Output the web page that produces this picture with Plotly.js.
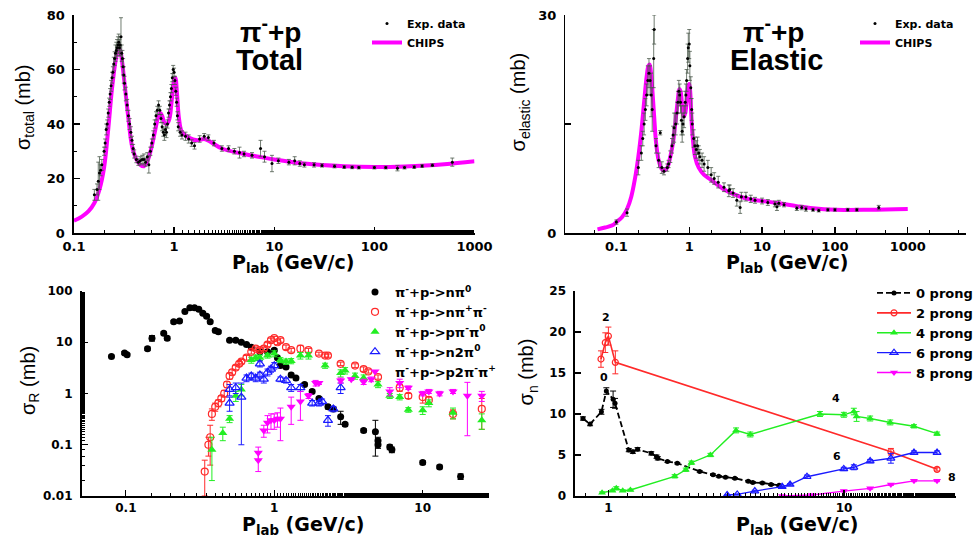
<!DOCTYPE html>
<html><head><meta charset="utf-8">
<script src="https://cdn.plot.ly/plotly-3.0.1.min.js"></script>
<style>html,body{margin:0;padding:0;background:#fff;}#chart{width:978px;height:537px;}</style>
</head><body><div id="chart"></div>
<script>
// ---------- Panel 1: pi- p total cross section ----------
var totCurveP = [0.1,0.12,0.14,0.16,0.18,0.2,0.22,0.24,0.26,0.27,0.28,0.29,0.3,0.32,0.35,0.38,0.42,0.46,0.5,0.55,0.6,0.65,0.7,0.73,0.76,0.8,0.85,0.9,0.95,1.0,1.03,1.07,1.12,1.2,1.4,1.7,2.0,2.3,3,5,7,10,20,50,100,200,500,1000];
var totCurveS = [4.5,6,8,11,16,24,38,53,63,66,67.5,67,64,55,42,32,27,25,24.5,27,32,38,43,44,43,40.5,40,42,49,56,57,51,42,37,35,34,34.5,33.5,31,29,28,27,25.5,24.5,24.2,24.4,25.2,26.3];
var totP = [0.16,0.17,0.175,0.18,0.185,0.19,0.2,0.205,0.21,0.215,0.22,0.225,0.23,0.235,0.24,0.245,0.25,0.255,0.26,0.265,0.27,0.275,0.28,0.285,0.29,0.295,0.3,0.305,0.31,0.315,0.32,0.33,0.34,0.35,0.36,0.37,0.38,0.39,0.4,0.42,0.44,0.46,0.48,0.5,0.52,0.54,0.56,0.58,0.6,0.62,0.64,0.66,0.68,0.7,0.72,0.74,0.76,0.78,0.8,0.82,0.84,0.86,0.88,0.9,0.92,0.94,0.96,0.98,1.0,1.02,1.04,1.06,1.08,1.1,1.15,1.2,1.3,1.4,1.5,1.6,1.8,2.0,2.2,2.5,3,3.5,4,4.5,5,6,7.3,8,9.5,11,14,16,18,20,25,30,40,50,60,70,100,130,170,200,250,300,380,600];
var totS = [14,16,19,22,23,25,30,33,38,40,44,48,51,54,57,59,62,64,66,67,68,69,70,68,69,72,66,64,61,58,55,51,47,43,40,37,34,31,29,27,26,26.5,27,27,26,28,25,30,33,36,40,43,45,47,45,42,39,37,36,38,37,40,44,47,50,53,57,60,59,56,52,48,43,39,37,36,35.5,34.5,33,32,34.5,35.5,35,33,31,31,30,29.5,29,28.5,31,28,25.5,26.5,26,26.5,25.5,25,25,24.8,24.5,24.2,24.1,24,24,24,23.8,24,24.2,24.6,24.9,26];
var totE = [2,2,7,6,2,2,1.5,1.5,2,1.5,1.5,1.5,2,2,2,2,2.5,2.5,3,3,3,3,3,3,3,7,3,3,3,3,2.5,2.5,2,2,2,2,1.5,1.5,1.5,1.2,1.2,1.5,1.5,2,1.5,1.5,3,1.5,1.5,1.5,1.5,1.5,1.5,1.5,1.5,1.5,1.5,1.5,2,2,2,1.5,1.5,1.5,1.5,1.5,1.5,1.5,1.5,1.5,1.5,1.5,1.5,1.5,1.5,1.5,1.5,1.5,1.2,1.2,1.2,1,1,1,1,1,1,2,1,1,3,2,3,1,1,1.5,1,0.8,0.8,0.6,0.6,0.5,0.5,0.5,0.5,0.5,1,0.5,0.5,0.5,0.5,1.5];

// ---------- Panel 2: pi- p elastic cross section ----------
var elCurveP = [0.055,0.07,0.09,0.1,0.12,0.14,0.16,0.18,0.2,0.22,0.24,0.26,0.275,0.285,0.295,0.31,0.33,0.35,0.38,0.42,0.46,0.5,0.55,0.6,0.65,0.7,0.73,0.76,0.8,0.84,0.88,0.92,0.96,1.0,1.03,1.07,1.12,1.2,1.35,1.6,2,3,5,7,10,17,30,50,100,300,1000];
var elCurveS = [0.5,0.75,1.1,1.5,2.2,3.3,5,7.5,10.5,14,18,21.5,23,23.2,22.5,20,16,12.5,10,8.8,8.6,9,10.5,12.5,15.5,18.5,19.8,19.5,17.5,16,16.5,18,20,20.5,19.5,16,13,10.5,9,8,7.3,6,5,4.6,4.4,4.1,3.7,3.4,3.2,3.2,3.3];
var elP = [0.1,0.14,0.2,0.22,0.23,0.24,0.25,0.26,0.27,0.28,0.29,0.3,0.31,0.325,0.33,0.35,0.38,0.4,0.42,0.45,0.5,0.52,0.55,0.58,0.6,0.62,0.65,0.68,0.7,0.72,0.74,0.76,0.78,0.8,0.82,0.85,0.88,0.9,0.92,0.95,0.97,1.0,1.02,1.05,1.08,1.1,1.15,1.2,1.25,1.3,1.35,1.4,1.5,1.6,1.8,2,2.2,2.5,3,3.5,3.6,4,4.5,5,5.2,6,7,8,10,12,15,16,17,20,30,35,40,50,60,80,100,150,200,400];
var elS = [1.5,2.8,9,11,13,15,17,19,21,22,21,19,17,24,28,12,10,13.8,9,8.5,9,9.5,10.5,12,13.5,14.5,15,16.5,18,19.5,19,18,15.5,14,15,16,18,19,21,24,25.5,26,23,20,17,15,13,12,11.5,12,11,10.5,10,9.5,9,8,7.5,7,6.3,5.8,6,5.5,4.5,3.5,5,5,4.7,4.5,4.4,4.2,4,3.6,4.1,3.9,3.4,3.5,3.3,3.2,3.1,3.2,3.2,3.2,3.2,3.5];
var elE = [0.3,0.5,1,1,1,1.5,1.5,1.5,2,2,2,3,3,4,2,1,1,0.3,0.8,0.5,0.5,0.5,0.8,1,1.2,2,1.5,1.5,1.5,1.5,1.5,1.5,2,1.5,1.5,1.5,1.5,1.5,1.5,2,2,2,2,1.5,1.5,1.5,1.2,1.2,1.2,1.2,1,1,1,1,1,1,0.8,0.8,0.6,0.8,0.6,0.6,0.8,0.8,0.6,0.6,0.5,0.4,0.4,0.4,0.4,0.5,0.4,0.3,0.3,0.3,0.3,0.2,0.2,0.2,0.2,0.2,0.2,0.3];

// ---------- Panel 3: channel cross sections ----------
var rNpi0P = [0.08,0.098,0.102,0.14,0.15,0.18,0.19,0.21,0.23,0.25,0.27,0.29,0.31,0.33,0.35,0.37,0.4,0.42,0.5,0.55,0.6,0.65,0.7,0.8,0.9,1.0,1.05,1.1,1.2,1.3,1.4,1.6,1.8,2.0,2.3,2.5,2.8,3.0,4.0,4.8,5.0,5.0,6.0,6.2,10,13,18];
var rNpi0S = [5.3,6.2,5.7,7.5,12,15,12,25,26,40,47,47,44,37,32,25,17,16,11,11,10,9,8,6.5,6.5,7,5,3.5,3.3,2.3,2.0,1.5,1.1,0.8,0.55,0.5,0.35,0.25,0.19,0.18,0.12,0.1,0.09,0.08,0.045,0.037,0.024];
var rNpi0E = [0.3,0.4,0.3,0.6,1.5,1,1,1.5,1.5,2,2,2,2,2,2,1.5,1,1,0.5,0.5,0.5,0.5,0.5,0.5,0.5,0.5,0.3,0.3,0.2,0.2,0.15,0.1,0.08,0.05,0.05,0.04,0.1,0.02,0.015,0.12,0.02,0.015,0.01,0.01,0.004,0.003,0.003];
var rNpipiP = [0.34,0.36,0.37,0.38,0.40,0.42,0.44,0.46,0.48,0.50,0.52,0.55,0.58,0.60,0.65,0.70,0.75,0.80,0.85,0.90,0.95,1.0,1.05,1.1,1.2,1.3,1.5,1.7,2.0,2.2,2.3,2.8,3.5,4.0,4.3,5.0,7.0,8.0,10,11,16,25];
var rNpipiS = [0.03,0.1,0.14,0.4,0.55,0.65,0.8,1.0,1.5,2.2,2.6,3.2,3.8,4.2,5,6.5,7.5,7,7.5,9,11,12,10,11,8,7,7.5,7,6,5.5,5.5,3.8,3.5,3,2.7,2.1,1.3,0.9,0.85,0.75,0.4,0.5];
var rNpipiE = [0.02,0.04,0.1,0.1,0.1,0.1,0.1,0.15,0.2,0.3,0.3,0.3,0.4,0.4,0.5,0.6,0.6,0.6,0.6,0.8,1,1,1,1,0.8,0.6,1.2,0.6,0.4,0.4,0.4,0.3,0.3,0.3,0.2,0.2,0.2,0.1,0.2,0.1,0.08,0.3];
var rPpipi0P = [0.38,0.45,0.5,0.55,0.6,0.7,0.75,0.8,0.9,1.0,1.1,1.2,1.3,1.5,1.7,2.2,2.8,3.0,3.5,4.0,5.0,6.0,7.0,8.0,10,11,16,25];
var rPpipi0S = [0.08,0.17,0.32,0.9,1.2,4.5,5,5,5.5,6,4.5,4.2,4.3,5.5,5.5,3.5,2.5,2.8,2.2,2.0,1.5,0.9,0.85,0.48,0.47,0.65,0.42,0.3];
var rPpipi0E = [0.06,0.05,0.05,0.2,0.3,0.6,0.6,0.6,0.6,0.8,0.5,0.5,0.5,0.8,0.8,0.4,0.4,0.4,0.3,0.3,0.2,0.1,0.1,0.05,0.08,0.1,0.1,0.1];
var rN2pi0P = [0.5,0.5,0.55,0.6,0.65,0.7,0.75,0.8,0.8,0.85,0.9,0.95,1.0,1.1,1.2,1.3,1.5,1.8,2.0,2.1,2.3,2.5,2.8];
var rN2pi0S = [0.65,1.2,1.3,0.85,2.0,2.2,2.0,2.3,3.8,1.9,2.6,3.0,3.5,1.9,1.8,1.3,1.3,0.65,0.65,0.7,0.3,0.5,1.3];
var rN2pi0E = [0.2,0.3,0.3,0.75,0.3,0.3,0.3,0.3,0.5,0.3,0.4,0.4,0.5,0.2,0.2,0.2,0.2,0.08,0.08,0.08,0.07,0.06,0.3];
var rP2piP = [0.78,0.78,0.85,0.9,0.95,1.0,1.05,1.1,1.3,1.5,1.7,1.9,2.0,2.8,3.3,4.0,4.5,6.0,7.0,8.0,10,11,13,16,20,25];
var rP2piS = [0.07,0.05,0.19,0.27,0.3,0.3,0.32,0.32,0.55,0.7,0.9,1.6,1.6,1.8,1.9,1.7,1.9,1.1,1.6,1.3,1.0,1.1,1.0,1.1,0.9,0.9];
var rP2piE = [0.02,0.02,0.05,0.1,0.1,0.1,0.1,0.2,0.3,0.4,0.1,0.2,0.1,0.2,0.1,0.2,0.2,0.2,0.3,0.1,0.1,0.1,0.1,0.1,0.75,0.2];

// ---------- Panel 4: prong cross sections ----------
var pr0P = [0.78,0.836,0.934,0.98,1.047,1.067,1.22,1.27,1.33,1.52,1.6,1.62,1.78,1.96,2.44,2.78,2.94,3.14,3.44,3.92,4.1,4.5,4.9,5.3];
var pr0S = [9.45,8.77,10.27,12.8,11.8,11.3,5.6,5.4,5.7,5.2,4.8,4.6,4.2,4.0,3.0,2.6,2.4,2.3,2.15,1.8,1.65,1.6,1.4,1.3];
var pr0E = [0.2,0.2,0.3,0.4,1.0,0.6,0.2,0.2,0.2,0.2,0.2,0.2,0.1,0.1,0.1,0.1,0.1,0.1,0.1,0.1,0.1,0.1,0.1,0.1];
var pr2P = [0.93,0.97,1.0,1.07,15.8,24.8];
var pr2S = [16.7,18.7,19.5,16.3,5.4,3.25];
var pr2E = [1.0,1.2,1.1,1.4,0.4,0.2];
var pr4P = [0.94,1.04,1.08,1.15,1.24,1.91,2.13,2.25,2.71,3.48,4.0,7.9,9.98,11.0,11.3,12.9,15.7,19.8,24.8];
var pr4S = [0.4,0.65,0.93,0.65,0.73,2.4,3.2,4.06,5.0,8.0,7.5,10.0,9.9,10.3,9.7,9.45,8.97,8.5,7.6];
var pr4E = [0.1,0.1,0.2,0.1,0.1,0.2,0.2,0.2,0.2,0.3,0.3,0.3,0.3,0.4,0.6,0.3,0.3,0.2,0.2];
var pr6P = [3.19,3.52,4.18,5.46,5.9,6.96,9.97,11.0,12.9,15.8,19.8,24.8];
var pr6S = [0.12,0.2,0.6,1.14,1.4,2.35,3.3,3.5,4.26,4.6,5.3,5.3];
var pr6E = [0.05,0.05,0.1,0.1,0.1,0.2,0.2,0.3,0.2,0.6,0.2,0.2];
var pr8P = [5.46,7.3,9.97,12.9,15.8,19.8,24.8];
var pr8S = [0.0,0.12,0.6,0.93,1.4,1.85,1.85];
var pr8E = [0.05,0.05,0.1,0.1,0.1,0.1,0.1];

var ticks1X = [0.1,1,10,100,1000];
var ticks1Xtxt = ['0.1','1','10','100','1000'];
var ticks1Y = [0,20,40,60,80];
var ticks2Y = [0,15,30];
var ticks2Ytxt = ['0','','30'];
var ticks3X = [0.1,1,10];
var ticks3Xtxt = ['0.1','1','10'];
var ticks3Y = [0.01,0.1,1,10,100];
var ticks3Ytxt = ['0.01','0.1','1','10','100'];
var ticks4X = [1,10];
var ticks4Xtxt = ['1','10'];
var ticks4Y = [0,5,10,15,20,25];

// ---------- styling ----------
var FONT = 'Arial, "Liberation Sans", sans-serif';
var WIDE = '"DejaVu Sans", Verdana, sans-serif';
var BLACK = '#000000', MAG = '#ff00ff', RED = '#ff2a2a', GREEN = '#22ee22', BLUE = '#1a1aff';
function tf(size){ return {family: WIDE, size: size, color: BLACK, weight: 'bold'}; }
function af(size){ return {family: FONT, size: size, color: BLACK, weight: 'bold'}; }
var yTitleFont = {family: FONT, size: 20, color: BLACK};

function errObj(arr, color, th, w){ return {type:'data', array: arr, visible:true, color: color, thickness: th, width: w}; }

var traces = [
  // panel 1
  {x: totCurveP, y: totCurveS, type:'scatter', mode:'lines', name:'CHIPS', line:{color:MAG, width:4, shape:'spline'}, xaxis:'x', yaxis:'y', legend:'legend', legendrank:2},
  {x: totP, y: totS, type:'scatter', mode:'markers', name:'Exp. data', marker:{color:BLACK, size:3}, error_y: errObj(totE, '#4d5a4d', 0.8, 2), xaxis:'x', yaxis:'y', legend:'legend', legendrank:1},
  // panel 2
  {x: elCurveP, y: elCurveS, type:'scatter', mode:'lines', name:'CHIPS', line:{color:MAG, width:4, shape:'spline'}, xaxis:'x2', yaxis:'y2', legend:'legend2', legendrank:2},
  {x: elP, y: elS, type:'scatter', mode:'markers', name:'Exp. data', marker:{color:BLACK, size:3}, error_y: errObj(elE, '#4d5a4d', 0.8, 2), xaxis:'x2', yaxis:'y2', legend:'legend2', legendrank:1},
  // panel 3
  {x: rNpi0P, y: rNpi0S, type:'scatter', mode:'markers', name:'π<sup>-</sup>+p->nπ<sup>0</sup>', marker:{color:BLACK, size:7, symbol:'circle'}, error_y: errObj(rNpi0E, BLACK, 1, 3), xaxis:'x3', yaxis:'y3', legend:'legend3'},
  {x: rNpipiP, y: rNpipiS, type:'scatter', mode:'markers', name:'π<sup>-</sup>+p->nπ<sup>+</sup>π<sup>-</sup>', marker:{color:RED, size:7, symbol:'circle-open', line:{width:1.2}}, error_y: errObj(rNpipiE, RED, 1, 3), xaxis:'x3', yaxis:'y3', legend:'legend3'},
  {x: rPpipi0P, y: rPpipi0S, type:'scatter', mode:'markers', name:'π<sup>-</sup>+p->pπ<sup>-</sup>π<sup>0</sup>', marker:{color:GREEN, size:8, symbol:'triangle-up'}, error_y: errObj(rPpipi0E, GREEN, 1, 3), xaxis:'x3', yaxis:'y3', legend:'legend3'},
  {x: rN2pi0P, y: rN2pi0S, type:'scatter', mode:'markers', name:'π<sup>-</sup>+p->n2π<sup>0</sup>', marker:{color:BLUE, size:8, symbol:'triangle-up-open', line:{width:1.2}}, error_y: errObj(rN2pi0E, BLUE, 1, 3), xaxis:'x3', yaxis:'y3', legend:'legend3'},
  {x: rP2piP, y: rP2piS, type:'scatter', mode:'markers', name:'π<sup>-</sup>+p->p2π<sup>-</sup>π<sup>+</sup>', marker:{color:MAG, size:8, symbol:'triangle-down'}, error_y: errObj(rP2piE, MAG, 1, 3), xaxis:'x3', yaxis:'y3', legend:'legend3'},
  // panel 4
  {x: pr0P, y: pr0S, type:'scatter', mode:'lines+markers', name:'0 prong', line:{color:BLACK, width:1.8, dash:'6px,3px'}, marker:{color:BLACK, size:5, symbol:'circle'}, error_y: errObj(pr0E, BLACK, 1, 3), xaxis:'x4', yaxis:'y4', legend:'legend4'},
  {x: pr2P, y: pr2S, type:'scatter', mode:'lines+markers', name:'2 prong', line:{color:RED, width:1.6}, marker:{color:RED, size:6, symbol:'circle-open', line:{width:1.2}}, error_y: errObj(pr2E, RED, 1, 3), xaxis:'x4', yaxis:'y4', legend:'legend4'},
  {x: pr4P, y: pr4S, type:'scatter', mode:'lines+markers', name:'4 prong', line:{color:GREEN, width:1.4}, marker:{color:GREEN, size:7, symbol:'triangle-up'}, error_y: errObj(pr4E, GREEN, 1, 3), xaxis:'x4', yaxis:'y4', legend:'legend4'},
  {x: pr6P, y: pr6S, type:'scatter', mode:'lines+markers', name:'6 prong', line:{color:BLUE, width:1.4}, marker:{color:BLUE, size:7, symbol:'triangle-up-open', line:{width:1.2}}, error_y: errObj(pr6E, BLUE, 1, 3), xaxis:'x4', yaxis:'y4', legend:'legend4'},
  {x: pr8P, y: pr8S, type:'scatter', mode:'lines+markers', name:'8 prong', line:{color:MAG, width:1.4}, marker:{color:MAG, size:7, symbol:'triangle-down'}, error_y: errObj(pr8E, MAG, 1, 3), xaxis:'x4', yaxis:'y4', legend:'legend4'}
];

function axBase(extra){
  var a = {showline:true, linecolor:BLACK, linewidth:1.6, mirror:false, showgrid:false, zeroline:false,
    ticks:'inside', ticklen:6, tickwidth:1.3, tickcolor:BLACK, tickfont: tf(13),
    fixedrange:true};
  for (var k in extra) a[k] = extra[k];
  return a;
}
var logMinor = {ticks:'inside', ticklen:3, tickwidth:1, tickcolor:BLACK, showgrid:false};

var W = 978, H = 537;
function dx(a,b){ return [a/W, b/W]; }
function dy(top,bot){ return [1-bot/H, 1-top/H]; }
function ann(px, py, text, font, extra){
  var a = {xref:'paper', yref:'paper', x:px/W, y:1-py/H, xanchor:'center', yanchor:'middle', text:text, showarrow:false, font:font};
  for (var k in extra) a[k] = extra[k];
  return a;
}
function dann(xv, yv, text){
  return {xref:'x4', yref:'y4', x:Math.log10(xv), y:yv, xanchor:'center', yanchor:'middle', text:text, showarrow:false, font: tf(11)};
}

var layout = {
  width: W, height: H, margin:{l:0,r:0,t:0,b:0}, paper_bgcolor:'#ffffff', plot_bgcolor:'#ffffff',
  font:{family:FONT, color:BLACK},
  xaxis: axBase({domain: dx(74,475), type:'log', range:[-1,3], tickvals: ticks1X, ticktext: ticks1Xtxt, minor: logMinor, anchor:'y', ticklabelstandoff:1}),
  yaxis: axBase({domain: dy(15,233), range:[0,80], tickvals: ticks1Y, minor:{ticks:'inside', ticklen:3, tickwidth:1, dtick:10, tickcolor:BLACK}, anchor:'x', ticklabelstandoff:5}),
  xaxis2: axBase({domain: dx(566,967), type:'log', range:[-1.7,3.8], tickvals: ticks1X, ticktext: ticks1Xtxt, minor: logMinor, anchor:'y2', ticklabelstandoff:1}),
  yaxis2: axBase({domain: dy(15,233), range:[0,30], tickvals: ticks2Y, ticktext: ticks2Ytxt, anchor:'x2', ticklabelstandoff:5}),
  xaxis3: axBase({domain: dx(82,490), type:'log', range:[-1.296,1.45], tickvals: ticks3X, ticktext: ticks3Xtxt, minor: logMinor, anchor:'y3', linewidth:2, ticklabelstandoff:0, tickfont: tf(12)}),
  yaxis3: axBase({domain: dy(291,496), type:'log', range:[-2,2], tickvals: ticks3Y, ticktext: ticks3Ytxt, minor: logMinor, anchor:'x3', linewidth:2, ticklabelstandoff:5, tickfont: tf(12)}),
  xaxis4: axBase({domain: dx(576,957), type:'log', range:[-0.14,1.475], tickvals: ticks4X, ticktext: ticks4Xtxt, minor: logMinor, anchor:'y4', linewidth:2, ticklabelstandoff:0, tickfont: tf(12)}),
  yaxis4: axBase({domain: dy(291,496), range:[0,25], tickvals: ticks4Y, anchor:'x4', linewidth:2, ticklabelstandoff:5, tickfont: tf(12)}),
  legend:  {x: 367/W, y: 1-9/H, xanchor:'left', yanchor:'top', bgcolor:'rgba(0,0,0,0)', font: tf(11), tracegroupgap:0},
  legend2: {x: 855/W, y: 1-9/H, xanchor:'left', yanchor:'top', bgcolor:'rgba(0,0,0,0)', font: tf(11), tracegroupgap:0},
  legend3: {x: 355/W, y: 1-277/H, xanchor:'left', yanchor:'top', bgcolor:'rgba(0,0,0,0)', font: tf(13), tracegroupgap:0},
  legend4: {x: 873/W, y: 1-278/H, xanchor:'left', yanchor:'top', bgcolor:'rgba(0,0,0,0)', font: tf(13), tracegroupgap:0, itemwidth:34},
  annotations: [
    ann(271, 30, 'π<sup>-</sup>+p', af(28)),
    ann(270, 60, 'Total', af(29)),
    ann(774, 30, 'π<sup>-</sup>+p', af(28)),
    ann(778, 60, 'Elastic', af(29)),
    // axis titles
    ann(293, 264, 'P<sub>lab</sub> (GeV/c)', tf(19)),
    ann(788, 264, 'P<sub>lab</sub> (GeV/c)', tf(19)),
    ann(303, 525, 'P<sub>lab</sub> (GeV/c)', tf(19)),
    ann(798, 525, 'P<sub>lab</sub> (GeV/c)', tf(19)),
    ann(24, 107, 'σ<sub>total</sub> (mb)', yTitleFont, {textangle:-90}),
    ann(520, 102, 'σ<sub>elastic</sub> (mb)', yTitleFont, {textangle:-90}),
    ann(29, 380, 'σ<sub>R</sub> (mb)', yTitleFont, {textangle:-90}),
    ann(528, 372, 'σ<sub>n</sub> (mb)', yTitleFont, {textangle:-90}),
    // prong labels
    dann(0.98, 21.8, '2'),
    dann(0.96, 14.4, '0'),
    dann(9.2, 11.95, '4'),
    dann(9.3, 4.8, '6'),
    dann(28.7, 2.3, '8')
  ],
  showlegend: true
};

Plotly.newPlot('chart', traces, layout, {displayModeBar:false, staticPlot:true});
</script></body></html>
